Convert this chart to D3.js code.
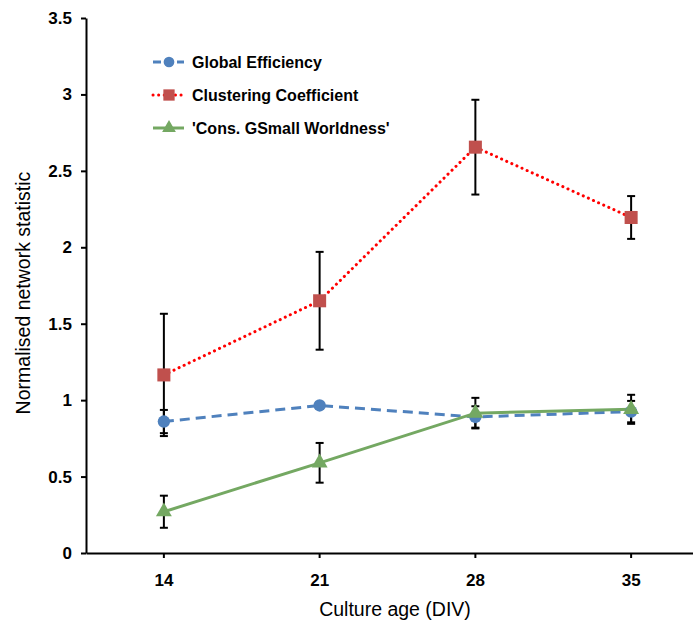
<!DOCTYPE html>
<html>
<head>
<style>
body {margin: 0; background: #fff; font-family: "Liberation Sans", Arial, sans-serif;}
</style>
<script src="https://cdnjs.cloudflare.com/ajax/libs/d3/7.8.5/d3.min.js"></script>
</head>
<body>
<div id="chart-container"></div>
<script>
    // values
    const ages = ["14", "21", "28", "35"];
    const globalEff = [0.86, 0.965, 0.89, 0.925];
    const globalEffErr = [0.076, 0.02, 0.07, 0.07];
    const clustering = [1.165, 1.65, 2.655, 2.195];
    const clusteringErr = [0.40, 0.32, 0.31, 0.14];
    const smallWorld = [0.27, 0.59, 0.915, 0.94];
    const smallWorldErr = [0.105, 0.13, 0.10, 0.095];
    const yTicks = [0, 0.5, 1, 1.5, 2, 2.5, 3, 3.5];

    const containerWidth = 693;
    const containerHeight = 626;
    const margin = { top: 18, right: -16, bottom: 73, left: 86 };
    const width = containerWidth - margin.left - margin.right;
    const height = containerHeight - margin.top - margin.bottom;

    const svg = d3.select("#chart-container")
        .append("svg")
        .attr("width", containerWidth)
        .attr("height", containerHeight)
        .append("g")
        .attr("transform", `translate(${margin.left},${margin.top})`);

    const x = d3.scaleBand().domain(ages).range([0, width]);
    const y = d3.scaleLinear().domain([0, 3.5]).range([height, 0]);
    const cx = d => x(d) + x.bandwidth() / 2;

    const series = [
        { name: "Global Efficiency", values: globalEff, err: globalEffErr,
          line: "#4f81bd", marker: "#4f81bd", dash: "10,6", shape: d3.symbolCircle, size: 120 },
        { name: "Clustering Coefficient", values: clustering, err: clusteringErr,
          line: "#ff0000", marker: "#c0504d", dash: "0.1,5.5", shape: d3.symbolSquare, size: 170 },
        { name: "'Cons. GSmall Worldness'", values: smallWorld, err: smallWorldErr,
          line: "#74a862", marker: "#74a862", dash: null, shape: d3.symbolTriangle, size: 110 }
    ];

    // axes
    const yAxis = svg.append("g")
        .call(d3.axisLeft(y).tickValues(yTicks).tickFormat(d => d).tickSize(5).tickSizeOuter(0));
    const xAxis = svg.append("g")
        .attr("transform", `translate(0,${height})`)
        .call(d3.axisBottom(x).tickSize(5).tickSizeOuter(0));
    [yAxis, xAxis].forEach(a => {
        a.select(".domain").attr("stroke", "#000").attr("stroke-width", 2);
        a.selectAll(".tick line").attr("stroke", "#000").attr("stroke-width", 2);
        a.selectAll("text").attr("fill", "#000")
            .style("font-size", "17px").style("font-weight", "bold")
            .style("font-family", "'Liberation Sans', Arial, sans-serif");
    });
    yAxis.selectAll("text").attr("x", -14);
    xAxis.selectAll("text").attr("y", 21);

    svg.append("text")
        .attr("x", 395 - margin.left)
        .attr("y", height + 63)
        .attr("text-anchor", "middle")
        .style("font-size", "19.5px")
        .text("Culture age (DIV)");

    svg.append("text")
        .attr("transform", `translate(-56,${293 - margin.top}) rotate(-90)`)
        .attr("text-anchor", "middle")
        .style("font-size", "19.5px")
        .text("Normalised network statistic");

    // lines, error bars
    series.forEach(s => {
        const pts = ages.map((a, i) => ({ a: a, v: s.values[i], e: s.err[i] }));
        const path = svg.append("path")
            .datum(pts)
            .attr("fill", "none")
            .attr("stroke", s.line)
            .attr("stroke-width", 3)
            .attr("d", d3.line().x(d => cx(d.a)).y(d => y(d.v)));
        if (s.dash) path.attr("stroke-dasharray", s.dash);
        if (s.shape === d3.symbolSquare) path.attr("stroke-linecap", "round");

        const eb = svg.append("g").selectAll("g").data(pts).join("g");
        eb.append("line")
            .attr("x1", d => cx(d.a)).attr("x2", d => cx(d.a))
            .attr("y1", d => y(d.v - d.e)).attr("y2", d => y(d.v + d.e))
            .attr("stroke", "#000").attr("stroke-width", 2);
        [-1, 1].forEach(k => {
            eb.append("line")
                .attr("x1", d => cx(d.a) - 4).attr("x2", d => cx(d.a) + 4)
                .attr("y1", d => y(d.v + k * d.e)).attr("y2", d => y(d.v + k * d.e))
                .attr("stroke", "#000").attr("stroke-width", 2);
        });
        s.pts = pts;
    });

    // markers on top
    series.forEach(s => {
        svg.append("g").selectAll("path").data(s.pts).join("path")
            .attr("transform", d => `translate(${cx(d.a)},${y(d.v)})`)
            .attr("d", d3.symbol().type(s.shape).size(s.size))
            .attr("fill", s.marker);
    });

    // legend
    const legend = svg.append("g").attr("transform", `translate(${153 - margin.left},${62 - margin.top})`);
    series.forEach((s, i) => {
        const row = legend.append("g").attr("transform", `translate(0,${i * 33})`);
        const l = row.append("line")
            .attr("x1", 0).attr("x2", 31).attr("y1", 0).attr("y2", 0)
            .attr("stroke", s.line).attr("stroke-width", 3);
        if (s.shape === d3.symbolCircle) l.attr("stroke-dasharray", "8,4");
        if (s.shape === d3.symbolSquare) l.attr("stroke-linecap", "round").attr("stroke-dasharray", "0.1,5.5");
        row.append("path")
            .attr("transform", "translate(16,0)")
            .attr("d", d3.symbol().type(s.shape).size(s.size * 0.75))
            .attr("fill", s.marker);
        row.append("text")
            .attr("x", 39).attr("y", 6)
            .style("font-size", "16px").style("font-weight", "bold")
            .text(s.name);
    });
</script>
</body>
</html>
